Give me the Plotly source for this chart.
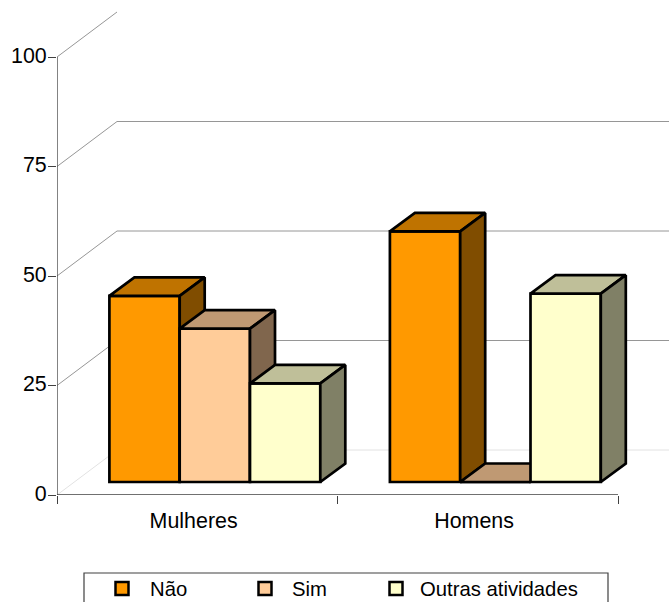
import plotly.graph_objects as go

categories = ["Mulheres", "Homens"]
series_names = ["Não", "Sim", "Outras atividades"]
nao = [42.5, 57.2]
sim = [35.0, 0.0]
outras = [22.5, 43.0]
y_ticks = [0, 25, 50, 75, 100]
front_colors = ["#FF9900", "#FFCC99", "#FFFFCC"]
top_colors = ["#BF7300", "#BF9973", "#BFBF99"]
side_colors = ["#804D00", "#80664D", "#808066"]

# Page geometry of the plotting area
W, H = 669, 602
LEFT, BASE = 57, 495
PX_PER_CAT = 280.5
PX_PER_UNIT = 4.38
to_x = lambda px: px / PX_PER_CAT
to_y = lambda px: px / PX_PER_UNIT

X_MAX = (W - LEFT) / PX_PER_CAT
Y_MAX = BASE / PX_PER_UNIT

# Oblique projection offsets
WALL_DX, WALL_DY = to_x(60), to_y(45)
BAR_DX, BAR_DY = to_x(25), to_y(18.5)
SHIFT_X, SHIFT_Y = to_x(52.4), to_y(13)
BAR_W = to_x(70.3)
OUTLINE = dict(color="black", width=2.7)

fig = go.Figure()

# Back wall and floor guide lines
for v in y_ticks:
    shade = "#E2E2E2" if v == 0 else "#969696"
    xs = [0, WALL_DX] if v == 100 else [0, WALL_DX, X_MAX]
    ys = [v, v + WALL_DY] if v == 100 else [v, v + WALL_DY, v + WALL_DY]
    fig.add_trace(go.Scatter(x=xs, y=ys, mode="lines", line=dict(color=shade, width=1),
                             hoverinfo="skip", showlegend=False, cliponaxis=False))

# Axis lines stop at the last tick rather than running along the whole plot area
fig.add_trace(go.Scatter(x=[0, 0], y=[0, 100], mode="lines", line=dict(color="#404040", width=1.3),
                         hoverinfo="skip", showlegend=False, cliponaxis=False))
fig.add_trace(go.Scatter(x=[0, 2], y=[0, 0], mode="lines", line=dict(color="#404040", width=1.3),
                         hoverinfo="skip", showlegend=False, cliponaxis=False))

# Each series sits on its own overlaid axes so later bars cover the sides of earlier ones
for i, (name, values) in enumerate(zip(series_names, [nao, sim, outras])):
    xa, ya = f"x{i + 2}", f"y{i + 2}"
    lefts = [c + SHIFT_X + i * BAR_W for c in range(len(categories))]
    fig.add_trace(go.Bar(
        x=[l + BAR_W / 2 for l in lefts], y=values, base=SHIFT_Y, width=BAR_W, name=name,
        marker=dict(color=front_colors[i], line=OUTLINE), xaxis=xa, yaxis=ya, showlegend=False))
    for l, v in zip(lefts, values):
        r, top = l + BAR_W, SHIFT_Y + v
        fig.add_trace(go.Scatter(
            x=[l, l + BAR_DX, r + BAR_DX, r, l], y=[top, top + BAR_DY, top + BAR_DY, top, top],
            mode="lines", fill="toself", fillcolor=top_colors[i], line=OUTLINE,
            xaxis=xa, yaxis=ya, hoverinfo="skip", showlegend=False))
        fig.add_trace(go.Scatter(
            x=[r, r + BAR_DX, r + BAR_DX, r, r],
            y=[SHIFT_Y, SHIFT_Y + BAR_DY, top + BAR_DY, top, SHIFT_Y],
            mode="lines", fill="toself", fillcolor=side_colors[i], line=OUTLINE,
            xaxis=xa, yaxis=ya, hoverinfo="skip", showlegend=False))

FONT = dict(family="Liberation Sans, Arial, sans-serif", size=20.3, color="black")
AXIS_FONT = dict(FONT, size=21.4)
hidden = dict(range=[0, X_MAX], showgrid=False, zeroline=False, showline=False, showticklabels=False,
              ticks="", overlaying="x")
hidden_y = dict(range=[0, Y_MAX], showgrid=False, zeroline=False, showline=False, showticklabels=False,
                ticks="", overlaying="y")

fig.update_layout(
    width=W, height=H, autosize=False, showlegend=False,
    paper_bgcolor="white", plot_bgcolor="rgba(0,0,0,0)", font=FONT, barmode="overlay",
    margin=dict(l=LEFT, r=0, t=0, b=H - BASE, pad=0, autoexpand=False),
    xaxis=dict(range=[0, X_MAX], tickmode="array", tickvals=[0, 1, 2], ticktext=["", "", ""],
               ticks="outside", ticklen=8, tickcolor="#404040", tickwidth=1.3,
               showgrid=False, zeroline=False, showline=False),
    yaxis=dict(range=[0, Y_MAX], tickmode="array", tickvals=y_ticks, ticks="outside", ticklen=8,
               tickcolor="#404040", tickwidth=1.3, showgrid=False, zeroline=False, showline=False,
               tickfont=AXIS_FONT, ticklabelstandoff=-3, ticklabelshift=-2),
    # Category names are carried by the first overlaid axis, centred between the tick marks
    xaxis2=dict(range=[0, X_MAX], overlaying="x", anchor="y2", tickmode="array", tickvals=[0.487, 1.487],
                ticktext=categories, ticks="outside", ticklen=6, tickcolor="rgba(0,0,0,0)",
                showgrid=False, zeroline=False, showline=False, tickfont=AXIS_FONT),
    xaxis3=dict(anchor="y3", **hidden),
    xaxis4=dict(anchor="y4", **hidden),
    yaxis2=hidden_y,
    yaxis3=hidden_y,
    yaxis4=hidden_y,
)

# Legend strip, open at the page bottom
px = lambda v: (v - LEFT) / (W - LEFT)
py = lambda v: (BASE - v) / BASE
fig.add_shape(type="rect", xref="paper", yref="paper", x0=px(84), x1=px(608), y0=py(610), y1=py(573),
              line=dict(color="#404040", width=1.2), fillcolor="white")
swatch_x = [122, 265, 396]
text_x = [148, 289.5, 418]
for sx, tx, label, color in zip(swatch_x, text_x, series_names, front_colors):
    fig.add_shape(type="rect", xref="paper", yref="paper", x0=px(sx - 6.5), x1=px(sx + 6.5),
                  y0=py(595), y1=py(582), fillcolor=color, line=dict(color="black", width=2.5))
    fig.add_annotation(xref="paper", yref="paper", x=px(tx), y=py(589), text=label, showarrow=False,
                       xanchor="left", yanchor="middle", font=FONT)

fig.write_html("out.html")
